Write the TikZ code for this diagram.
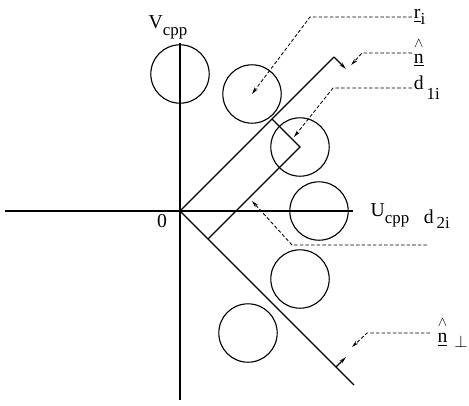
\documentclass[tikz,border=0pt]{standalone}
\usepackage{fontspec}
\setmainfont{Liberation Serif}
\usetikzlibrary{arrows.meta}

% lowered (subscript-like) text
\newcommand{\lo}[2][4pt]{\raisebox{-#1}{\fontsize{12}{14}\selectfont #2}}
% underlined n with a caret on top
\newcommand{\nvec}{\shortstack{\fontsize{10}{10}\selectfont$\wedge$\\[2pt]\underline{n}}}

\tikzset{
  disc/.style={draw, circle, minimum size=1.46cm, inner sep=0pt, line width=0.8pt},
  leader/.style={line width=0.6pt, dash pattern=on 2.5pt off 1.5pt,
    -{Stealth[length=5pt,width=2.6pt]}},
  vec/.style={line width=0.8pt, -{Stealth[length=5pt,width=2.6pt]}},
  lbl/.style={inner sep=1pt, font=\fontsize{14}{16}\selectfont},
}

\begin{document}
\begin{tikzpicture}[line width=0.8pt]
  \useasboundingbox (-4.5,-4.85) rectangle (7.225,5.275);

  % Axes
  \coordinate (o) at (0,0);
  \draw (-4.375,0) -- (4.325,0);
  \draw (0,4.2) -- (0,-4.725);

  % Circles
  \foreach \n/\x/\y in {1/0/3.425, 2/1.8/2.925, 3/3/1.6, 4/3.475/0, 5/3/-1.7, 6/1.7/-3.05}
    \node[disc] (c\n) at (\x,\y) {};

  % Wedge lines
  \coordinate (uend) at (3.85,3.85);
  \coordinate (lend) at (4.35,-4.35);
  \coordinate (foot1) at (2.3,2.3);
  \coordinate (foot2) at (0.7,-0.7);
  \draw (o) -- (uend);
  \draw (o) -- (lend);
  \draw (foot1) -- (c3.center) -- (foot2);

  % Unit vectors
  \draw[vec] (uend) -- ++(-45:0.42) coordinate (ntip);
  \coordinate (pbase) at (3.9,-3.9);
  \draw[vec] (pbase) -- ++(45:0.35) coordinate (ptip);

  % Axis labels
  \node[lbl] (vcpp) at (-0.3,4.6) {V\lo[5pt]{cpp}};
  \node[lbl] (zero) at (-0.45,-0.25) {0};
  \node[lbl] (ucpp) at (5.25,-0.12) {U\lo[5pt]{cpp}};
  \node[lbl] (d2i) at (6.42,-0.2) {d\lo{\,2i}};

  % Right-hand labels
  \node[lbl, anchor=west] (ri) at (5.8,4.85) {\underline{r}\lo{i}};
  \node[lbl, anchor=west] (nhat) at (5.8,3.95) {\nvec};
  \node[lbl, anchor=west] (d1i) at (5.8,3.075) {d\lo[7pt]{\,1i}};
  \node[lbl, anchor=west, inner xsep=5pt] (nperp) at (6.25,-3.05) {\nvec\hspace{5pt}\lo[3pt]{$\perp$}};

  % Leaders
  \draw[leader] (ri.west) -- (3.25,4.85) -- (c2.center);
  \draw[leader] (nhat.west) -- (4.55,3.95) -- (4.28,3.65);
  \draw[leader] (d1i.west) -- (3.825,3.075) -- (2.85,1.85);
  \coordinate (d2iend) at (6.175,-0.85);
  \draw[leader] (d2iend) -- (2.8,-0.85) -- (1.8,0.25);
  \draw[leader] (nperp.west) -- (4.675,-3.05) -- (4.3,-3.4);
\end{tikzpicture}
\end{document}
